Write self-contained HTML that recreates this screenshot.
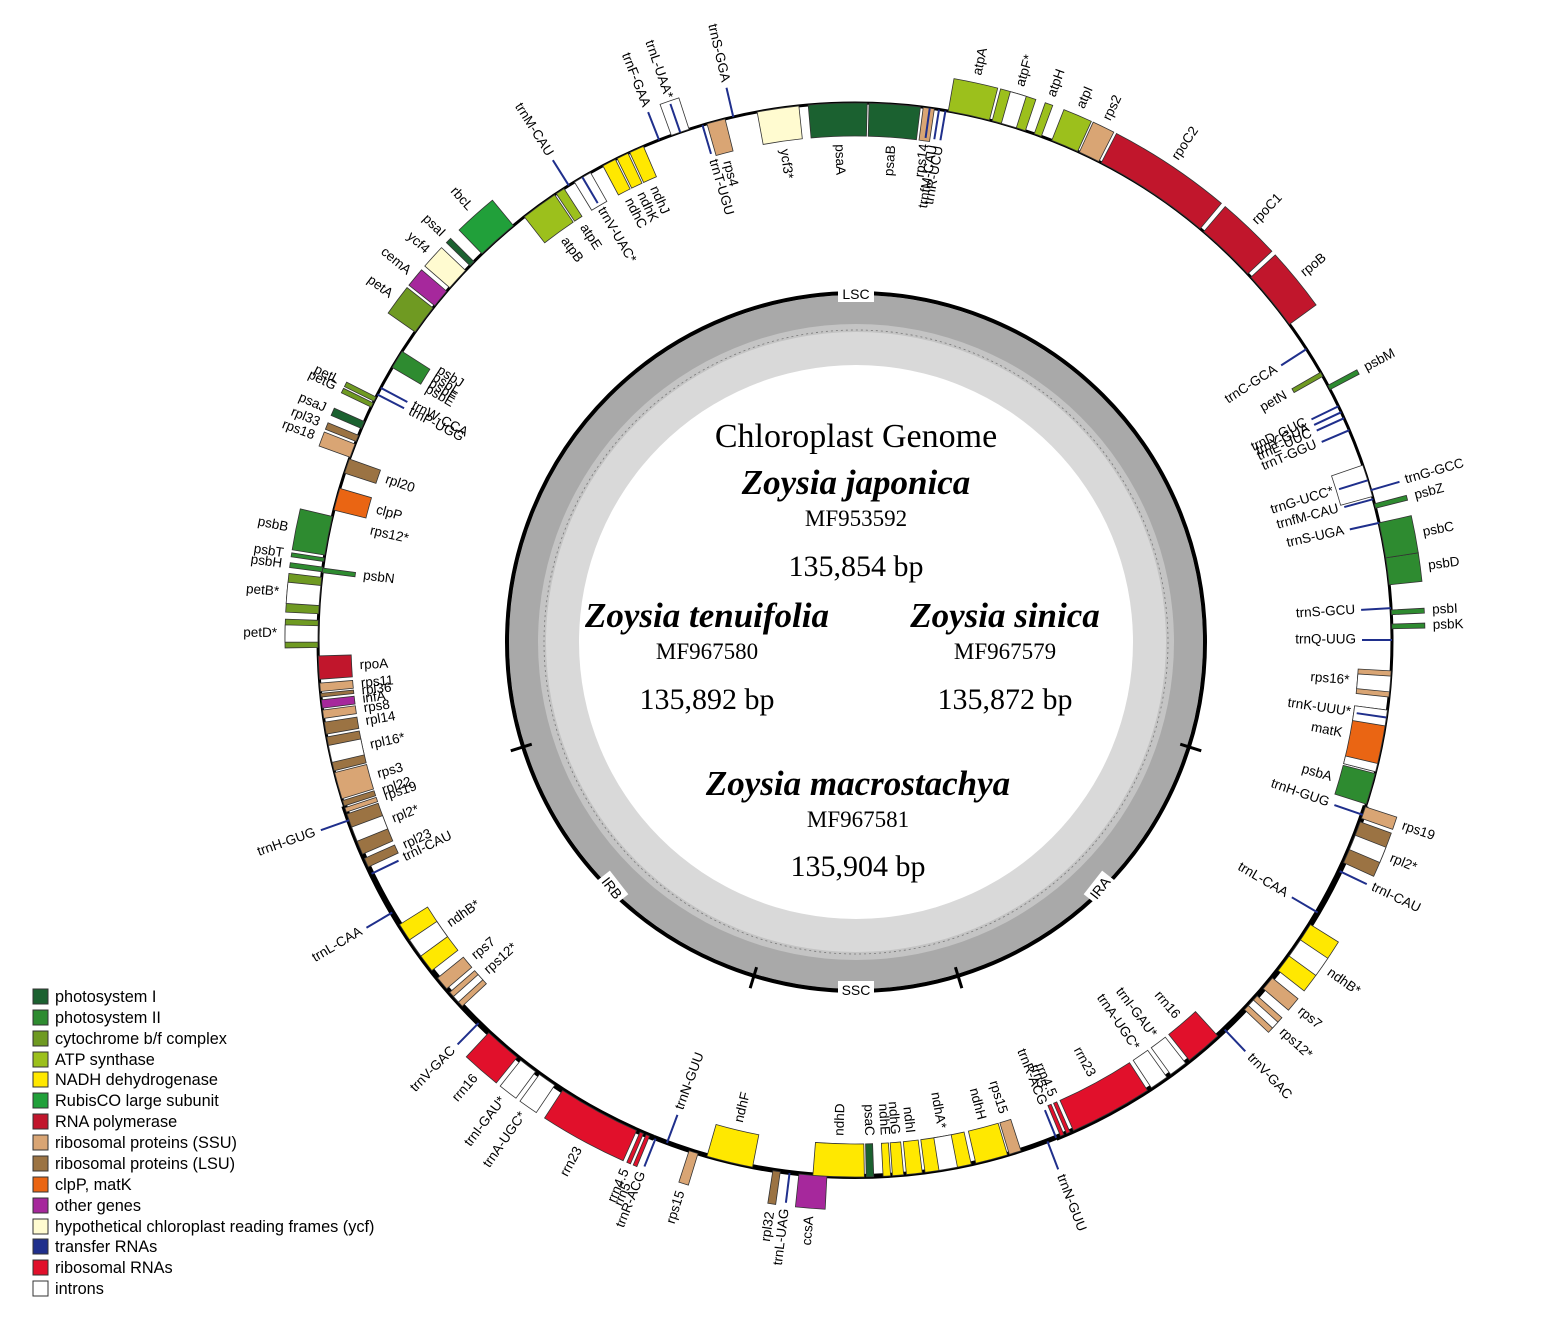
<!DOCTYPE html>
<html><head><meta charset="utf-8"><style>
html,body{margin:0;padding:0;background:#fff;}
svg{display:block;}
text{font-family:"Liberation Sans",sans-serif;}
.s{font-family:"Liberation Serif",serif;}
</style></head><body>
<svg id="g" width="1547" height="1317" viewBox="0 0 1547 1317" xmlns="http://www.w3.org/2000/svg">
<circle cx="856" cy="642" r="347" fill="#a9a9a9"/>
<circle cx="856" cy="642" r="318" fill="#c4c4c4"/>
<circle cx="856" cy="642" r="310" fill="#d9d9d9"/>
<circle cx="856" cy="642" r="312" fill="none" stroke="#777" stroke-width="0.8" stroke-dasharray="2,3"/>
<circle cx="856" cy="642" r="277" fill="#fff"/>
<circle cx="856" cy="642" r="349" fill="none" stroke="#000" stroke-width="4"/>
<g id="inner"></g>
<rect x="838" y="285" width="36" height="17" fill="#fff"/>
<text x="856" y="299" font-size="14" text-anchor="middle">LSC</text>
<rect x="838" y="981" width="36" height="17" fill="#fff"/>
<text x="856" y="995" font-size="14" text-anchor="middle">SSC</text>
<g transform="rotate(-52 1100 888)"><rect x="1085" y="879" width="30" height="17" fill="#fff"/><text x="1100" y="893" font-size="14" text-anchor="middle">IRA</text></g>
<g transform="rotate(52 612 888)"><rect x="597" y="879" width="30" height="17" fill="#fff"/><text x="612" y="893" font-size="14" text-anchor="middle">IRB</text></g>
<text class="s" x="856" y="447" font-size="34" text-anchor="middle">Chloroplast Genome</text>
<text class="s" x="856" y="494" font-size="35" font-weight="bold" font-style="italic" text-anchor="middle">Zoysia japonica</text>
<text class="s" x="856" y="526" font-size="23" text-anchor="middle">MF953592</text>
<text class="s" x="856" y="576" font-size="30" text-anchor="middle">135,854 bp</text>
<text class="s" x="707" y="627" font-size="35" font-weight="bold" font-style="italic" text-anchor="middle">Zoysia tenuifolia</text>
<text class="s" x="707" y="659" font-size="23" text-anchor="middle">MF967580</text>
<text class="s" x="707" y="709" font-size="30" text-anchor="middle">135,892 bp</text>
<text class="s" x="1005" y="627" font-size="35" font-weight="bold" font-style="italic" text-anchor="middle">Zoysia sinica</text>
<text class="s" x="1005" y="659" font-size="23" text-anchor="middle">MF967579</text>
<text class="s" x="1005" y="709" font-size="30" text-anchor="middle">135,872 bp</text>
<text class="s" x="858" y="795" font-size="35" font-weight="bold" font-style="italic" text-anchor="middle">Zoysia macrostachya</text>
<text class="s" x="858" y="827" font-size="23" text-anchor="middle">MF967581</text>
<text class="s" x="858" y="876" font-size="30" text-anchor="middle">135,904 bp</text>
<g id="genes"></g>
<g font-size="16.3" stroke="none">
<rect x="33" y="989" width="15" height="15" fill="#1b6130" stroke="#333"/><text x="55" y="1002">photosystem I</text>
<rect x="33" y="1010" width="15" height="15" fill="#2e8b30" stroke="#333"/><text x="55" y="1023">photosystem II</text>
<rect x="33" y="1031" width="15" height="15" fill="#6f9a22" stroke="#333"/><text x="55" y="1044">cytochrome b/f complex</text>
<rect x="33" y="1052" width="15" height="15" fill="#9cc01c" stroke="#333"/><text x="55" y="1065">ATP synthase</text>
<rect x="33" y="1072" width="15" height="15" fill="#ffe800" stroke="#333"/><text x="55" y="1085">NADH dehydrogenase</text>
<rect x="33" y="1093" width="15" height="15" fill="#21a03a" stroke="#333"/><text x="55" y="1106">RubisCO large subunit</text>
<rect x="33" y="1114" width="15" height="15" fill="#c1162c" stroke="#333"/><text x="55" y="1127">RNA polymerase</text>
<rect x="33" y="1135" width="15" height="15" fill="#d9a574" stroke="#333"/><text x="55" y="1148">ribosomal proteins (SSU)</text>
<rect x="33" y="1156" width="15" height="15" fill="#9b7343" stroke="#333"/><text x="55" y="1169">ribosomal proteins (LSU)</text>
<rect x="33" y="1177" width="15" height="15" fill="#ea6513" stroke="#333"/><text x="55" y="1190">clpP, matK</text>
<rect x="33" y="1198" width="15" height="15" fill="#a6289c" stroke="#333"/><text x="55" y="1211">other genes</text>
<rect x="33" y="1219" width="15" height="15" fill="#fffbd0" stroke="#333"/><text x="55" y="1232">hypothetical chloroplast reading frames (ycf)</text>
<rect x="33" y="1239" width="15" height="15" fill="#1f2f8c" stroke="#333"/><text x="55" y="1252">transfer RNAs</text>
<rect x="33" y="1260" width="15" height="15" fill="#e1102b" stroke="#333"/><text x="55" y="1273">ribosomal RNAs</text>
<rect x="33" y="1281" width="15" height="15" fill="#fff" stroke="#333"/><text x="55" y="1294">introns</text>
</g>
</svg>
<script>
(function(){
var NS="http://www.w3.org/2000/svg";
var cx=855,cy=640,R=537,W=33;
var C={PSI:'#1b6130',PSII:'#2e8b30',CYT:'#6f9a22',ATP:'#9cc01c',NDH:'#ffe800',RBC:'#21a03a',RPO:'#c1162c',SSU:'#d9a574',LSU:'#9b7343',CLP:'#ea6513',OTH:'#a6289c',YCF:'#fffbd0',TRN:'#1f2f8c',RRN:'#e1102b',INT:'#ffffff'};
var G=document.getElementById('genes');
function el(n,a,p){var e=document.createElementNS(NS,n);for(var k in a)e.setAttribute(k,a[k]);(p||G).appendChild(e);return e;}
function pt(r,a){var t=a*Math.PI/180;return [cx+r*Math.sin(t),cy-r*Math.cos(t)];}
function arcPath(r1,r2,a1,a2){var p1=pt(r2,a1),p2=pt(r2,a2),p3=pt(r1,a2),p4=pt(r1,a1);var l=(a2-a1)>180?1:0;
return 'M'+p1+' A'+r2+','+r2+' 0 '+l+' 1 '+p2+' L'+p3+' A'+r1+','+r1+' 0 '+l+' 0 '+p4+'Z';}
var IG=document.getElementById('inner');
[107.5,163,197,252.5].forEach(function(a){var t=a*Math.PI/180;var x1=856+340*Math.sin(t),y1=642-340*Math.cos(t),x2=856+362*Math.sin(t),y2=642-362*Math.cos(t);el('line',{x1:x1,y1:y1,x2:x2,y2:y2,stroke:'#000','stroke-width':3},IG);});
el('circle',{cx:cx,cy:cy,r:R,fill:'none',stroke:'#000','stroke-width':3});
el('path',{d:arcPath(R-3,R+3,108,158),fill:'#000'});
el('path',{d:arcPath(R-3,R+3,202,252),fill:'#000'});
el('path',{d:arcPath(R-3,R+2,158,202),fill:'#000'});
function label(name,a,r,outside){
 var p=pt(r,a);var aa=((a%360)+360)%360;var right=aa<180;var rot=right?aa-90:aa+90;
 var anchor=(right===outside)?'start':'end';
 var t=el('text',{x:p[0],y:p[1],'font-size':13.5,'text-anchor':anchor,'dominant-baseline':'middle',transform:'rotate('+rot+' '+p[0]+' '+p[1]+')'});t.textContent=name;}
function gene(name,a1,a2,side,col,intr){
 var o=side==='o';var r1=o?R:R-W,r2=o?R+W:R;
 el('path',{d:arcPath(r1,r2,a1,a2),fill:C[col],stroke:'#333','stroke-width':0.8});
 if(intr){var m=(a1+a2)/2,w=(a2-a1)*intr;el('path',{d:arcPath(r1,r2,m-w/2,m+w/2),fill:'#fff',stroke:'#333','stroke-width':0.8});}
 if(name)label(name,(a1+a2)/2,o?R+W+8:R-W-8,o);
}
function trna(name,a,side){var o=side==='o';var p1=pt(R,a),p2=pt(o?R+30:R-30,a);
 el('line',{x1:p1[0],y1:p1[1],x2:p2[0],y2:p2[1],stroke:C.TRN,'stroke-width':2});
 label(name,a,o?R+36:R-36,o);}
var g=[
['psaA',-5,1.3,'i','PSI'],['psaB',1.5,7,'i','PSI'],['ycf3*',-10.5,-6,'i','YCF'],['rps4',-16,-14,'i','SSU'],
['ndhJ',-24.8,-23.2,'i','NDH'],['ndhK',-26.3,-25,'i','NDH'],['ndhC',-28,-26.5,'i','NDH'],
['atpE',-33.8,-32.8,'i','ATP'],['atpB',-38,-34,'i','ATP'],['rbcL',-44,-39.5,'o','RBC'],['psaI',-45.8,-45.2,'o','PSI'],
['ycf4',-49,-46.5,'o','YCF'],['cemA',-51.5,-49.5,'o','OTH'],['petA',-55,-51.8,'o','CYT'],
['',-59.5,-57.5,'i','PSII'],['petL',-63.6,-63.1,'o','CYT'],['petG',-64.3,-63.8,'o','CYT'],
['psaJ',-66.8,-66,'o','PSI'],['rpl33',-68.3,-67.6,'o','LSU'],['rps18',-70.1,-68.6,'o','SSU'],
['rpl20',-71.9,-70.3,'i','LSU'],['clpP',-76,-73.6,'i','CLP'],['psbB',-80.9,-76.7,'o','PSII'],
['psbT',-81.6,-81.2,'o','PSII'],['psbH',-82.7,-82.2,'o','PSII'],['psbN',-82.8,-82.3,'i','PSII'],
['petB*',-87.2,-83.3,'o','CYT',0.55],['petD*',-90.8,-87.9,'o','CYT',0.6],
['rpoA',-94.2,-91.7,'i','RPO'],['rps11',-95.5,-94.6,'i','SSU'],['rpl36',-96.1,-95.7,'i','LSU'],['infA',-97.3,-96.4,'i','OTH'],
['rps8',-98.4,-97.5,'i','SSU'],['rpl14',-100.1,-98.8,'i','LSU'],['rpl16*',-104.1,-100.4,'i','LSU',0.5],
['rps3',-107.2,-104.3,'i','SSU'],['rpl22',-108,-107.4,'i','LSU'],['rps19',-108.7,-108.2,'i','SSU'],
['rpl2*',-113.5,-108.9,'i','LSU',0.35],['rpl23',-115,-114,'i','LSU'],
['ndhB*',-128,-122,'i','NDH',0.35],['rps7',-130.5,-129,'i','SSU'],['rps12*',-133,-131,'i','SSU',0.4],
['rrn16',-141,-137,'o','RRN'],['trnI-GAU*',-143.5,-141.5,'o','INT'],['trnA-UGC*',-146,-144,'o','INT'],
['rrn23',-156,-147,'o','RRN'],['',-156.8,-156.4,'o','RRN'],['',-157.5,-157.1,'o','RRN'],
['rps15',-163,-162,'o','SSU'],['ndhF',-169,-164,'i','NDH'],['rpl32',-172,-171.2,'o','LSU'],['ccsA',-177,-174,'o','OTH'],
['ndhD',179,184.5,'i','NDH'],['psaC',178,178.8,'i','PSI'],['ndhE',176.2,177,'i','NDH'],['ndhG',174.8,176,'i','NDH'],
['ndhI',172.8,174.5,'i','NDH'],['ndhA*',167.5,172.5,'i','NDH',0.4],['ndhH',163.5,167,'i','NDH'],['rps15',162,163.3,'i','SSU'],
['rrn23',147,156,'i','RRN'],['',156.4,156.8,'i','RRN'],['',157.1,157.5,'i','RRN'],
['trnA-UGC*',144.5,146.5,'i','INT'],['trnI-GAU*',142,144,'i','INT'],['rrn16',137.5,141.5,'i','RRN'],
['rps12*',131.5,133.5,'o','SSU',0.4],['rps7',129,130.5,'o','SSU'],['ndhB*',122,128,'o','NDH',0.35],
['rpl2*',109.8,114.5,'o','LSU',0.35],['rps19',108.1,109.4,'o','SSU'],
['psbA',104.4,107.8,'i','PSII'],['matK',97.5,104.2,'i','CLP'],['rps16*',93.3,96.1,'i','SSU',0.6],
['psbK',88.3,88.8,'o','PSII'],['psbI',86.8,87.3,'o','PSII'],['psbD',81.2,84.1,'o','PSII'],['psbC',77.4,81.2,'o','PSII'],
['psbZ',75.3,75.8,'o','PSII'],['',71,74.5,'i','INT'],['psbM',61.7,62.2,'o','PSII'],['petN',60.1,60.6,'i','CYT'],
['rpoB',47.5,54,'o','RPO'],['rpoC1',40.5,47,'o','RPO'],['rpoC2',27.3,40,'o','RPO'],['rps2',24.7,27,'o','SSU'],
['atpI',21.5,24.5,'o','ATP'],['atpH',19.5,20.3,'o','ATP'],['atpF*',14.8,18.5,'o','ATP',0.45],['atpA',10,14.5,'o','ATP'],
['',7.3,8.5,'i','SSU'],['',-20,-18,'o','INT'],['',-31.5,-29.5,'i','INT']
];
g.forEach(function(x){gene(x[0],x[1],x[2],x[3],x[4],x[5]);});
el('path',{d:arcPath(R-W,R,97.5,99.2),fill:'#fff',stroke:'#333','stroke-width':0.8});
el('path',{d:arcPath(R-W,R,103.3,104.2),fill:'#fff',stroke:'#333','stroke-width':0.8});
var t=[
['trnS-GGA',-13.1,'o'],['trnT-UGU',-16.5,'i'],['trnL-UAA*',-19,'o'],['trnF-GAA',-21.4,'o'],['trnV-UAC*',-30.5,'i'],
['trnM-CAU',-32.2,'o'],['trnW-CCA',-62,'i'],['trnP-UGG',-62.8,'i'],['trnH-GUG',-109.6,'o'],['trnI-CAU',-115.8,'i'],
['trnL-CAA',-120.5,'o'],['trnV-GAC',-135.5,'o'],['trnN-GUU',-159.5,'i'],['trnR-ACG',-158.2,'o'],['trnL-UAG',-173,'o'],
['trnN-GUU',159,'o'],['trnR-ACG',158,'i'],['trnV-GAC',136.5,'o'],['trnL-CAA',120.5,'i'],['trnI-CAU',115.5,'o'],
['trnH-GUG',109,'i'],['trnK-UUU*',98.3,'i'],['trnQ-UUG',90,'i'],['trnS-GCU',86.6,'i'],['trnS-UGA',77.4,'i'],
['trnfM-CAU',74.8,'i'],['trnG-UCC*',72.7,'i'],['trnG-GCC',73.8,'o'],['trnT-GGU',67,'i'],['trnE-UUC',65.6,'i'],
['trnY-GUA',64.9,'i'],['trnD-GUC',64.2,'i'],['trnC-GCA',57.2,'i'],['rps14',8,'i'],['trnfM-CAU',9,'i'],['trnR-UCU',9.7,'i']
];
t.forEach(function(x){trna(x[0],x[1],x[2]);});
label('psbJ',-57,R-40,false);label('psbL',-58,R-40,false);label('psbF',-58.8,R-40,false);label('psbE',-59.6,R-40,false);
label('rps12*',-77.3,R-40,false);label('rrn4.5',-156.6,R+40,true);label('rrn5',-157.3,R+52,true);
label('rrn4.5',156.6,R-40,false);label('rrn5',157.3,R-52,false);
})();
</script>
</body></html>
